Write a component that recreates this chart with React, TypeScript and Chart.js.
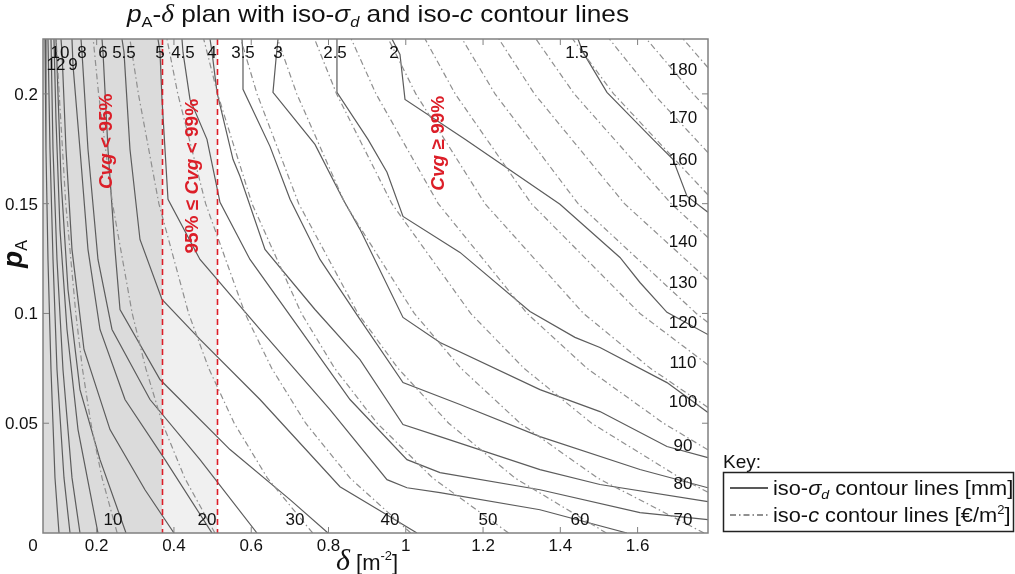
import React, { useEffect, useRef } from "react";
import { Chart, registerables } from "chart.js";
Chart.register(...registerables);

const SANS = '"Liberation Sans", Arial, Helvetica, sans-serif';
const SERIF = '"Liberation Serif", "Times New Roman", serif';

// axis ranges and ticks
const xMin = 0.0611;
const xMax = 1.7822;
const yMin = 0;
const yMax = 0.225;
const xTicks = [0.2, 0.4, 0.6, 0.8, 1, 1.2, 1.4, 1.6];
const xTickLabels = ["0.2", "0.4", "0.6", "0.8", "1", "1.2", "1.4", "1.6"];
const yTicks = [0.05, 0.1, 0.15, 0.2];
const yTickLabels = ["0.05", "0.1", "0.15", "0.2"];

// coverage boundaries (delta values of the red dashed lines)
const cvgBounds = [0.3695, 0.5114];

// iso-sigma_d contour lines [delta, pA]
const sdU1 = [[0.0663, 0.225], [0.0688, 0.1748], [0.074, 0.1246], [0.0818, 0.0745], [0.0921, 0.0252], [0.1025, 0]];
const sdU2 = [[0.074, 0.225], [0.0792, 0.1748], [0.087, 0.1246], [0.0973, 0.0745], [0.1154, 0.0252], [0.131, 0]];
const sdU3 = [[0.0818, 0.225], [0.087, 0.1748], [0.0973, 0.1246], [0.1128, 0.0745], [0.1361, 0.0252], [0.1568, 0]];
const sdU4 = [[0.0895, 0.225], [0.0947, 0.1884], [0.1051, 0.1383], [0.1232, 0.0927], [0.1517, 0.0471], [0.2034, 0]];
const sd12 = [[0.0947, 0.225], [0.0973, 0.2131], [0.1077, 0.1611], [0.1258, 0.1109], [0.1568, 0.0653], [0.2086, 0.0334], [0.2759, 0]];
const sd10 = [[0.1077, 0.225], [0.1103, 0.219], [0.1206, 0.1748], [0.1361, 0.1292], [0.1672, 0.0836], [0.2345, 0.0471], [0.325, 0.0197], [0.4001, 0]];
const sd9 = [[0.1361, 0.225], [0.1387, 0.2131], [0.1568, 0.1748], [0.1775, 0.1292], [0.2086, 0.0927], [0.2733, 0.0608], [0.3768, 0.0334], [0.4985, 0]];
const sd8 = [[0.1594, 0.225], [0.162, 0.219], [0.1775, 0.1748], [0.2034, 0.1246], [0.2397, 0.0927], [0.338, 0.0608], [0.4674, 0.0334], [0.6149, 0]];
const sd6 = [[0.2138, 0.225], [0.2164, 0.219], [0.2293, 0.1748], [0.2474, 0.1292], [0.2604, 0.1018], [0.3639, 0.0699], [0.5451, 0.038], [0.7004, 0.0152], [0.7987, 0]];
const sd55 = [[0.2655, 0.225], [0.2707, 0.219], [0.2862, 0.1748], [0.3121, 0.1337], [0.3691, 0.1064], [0.4674, 0.0882], [0.6227, 0.0608], [0.8297, 0.0211], [0.941, 0.0093], [1.029, 0]];
const sd5 = [[0.3587, 0.225], [0.3639, 0.219], [0.3691, 0.1975], [0.3846, 0.152], [0.4674, 0.1246], [0.6227, 0.0927], [0.8038, 0.0562], [0.9514, 0.0243], [1.0031, 0.0206], [1.0886, 0.0184], [1.3473, 0.0106], [1.5725, 0]];
const sd45 = [[0.4208, 0.225], [0.4234, 0.219], [0.4415, 0.1975], [0.4855, 0.1793], [0.5192, 0.1506], [0.5968, 0.1246], [0.7262, 0.0927], [0.8556, 0.0608], [1.0031, 0.0334], [1.0886, 0.0275], [1.3473, 0.0197], [1.6061, 0.0093], [1.782, 0.0061]];
const sd4 = [[0.4933, 0.225], [0.4985, 0.219], [0.5114, 0.2007], [0.5528, 0.1702], [0.5709, 0.1625], [0.6356, 0.1292], [0.765, 0.1018], [0.8815, 0.079], [0.9928, 0.0494], [1.0886, 0.0439], [1.3473, 0.0289], [1.5026, 0.0221], [1.782, 0.0143]];
const sd35 = [[0.5761, 0.225], [0.5787, 0.2172], [0.5787, 0.2021], [0.6485, 0.1761], [0.7004, 0.152], [0.778, 0.1246], [0.8815, 0.0973], [0.9928, 0.0685], [1.1403, 0.0585], [1.3473, 0.0439], [1.6061, 0.0289], [1.782, 0.0206]];
const sd3 = [[0.6693, 0.225], [0.6641, 0.2158], [0.6563, 0.2007], [0.765, 0.177], [0.8375, 0.152], [0.8815, 0.1383], [0.9928, 0.0982], [1.0886, 0.0868], [1.3473, 0.0653], [1.5026, 0.0553], [1.676, 0.0394], [1.782, 0.0343]];
const sd25 = [[0.8219, 0.225], [0.8219, 0.2007], [0.9022, 0.1793], [0.9514, 0.1643], [0.9928, 0.1442], [1.1403, 0.1278], [1.3215, 0.1009], [1.4379, 0.0891], [1.5026, 0.0845], [1.676, 0.0685], [1.782, 0.0549]];
const sd2 = [[0.9643, 0.225], [0.985, 0.218], [0.998, 0.1975], [1.1533, 0.1793], [1.3991, 0.1497], [1.5544, 0.1255], [1.6061, 0.1141], [1.676, 0.1005], [1.782, 0.0904]];
const sd15 = [[1.4457, 0.225], [1.4586, 0.219], [1.5207, 0.2007], [1.6398, 0.1793], [1.6915, 0.1702], [1.7278, 0.1534], [1.782, 0.1461]];

// iso-c contour lines [delta, pA]
const c10 = [[0.253, 0], [0.214, 0.025], [0.185, 0.05], [0.163, 0.075], [0.146, 0.1], [0.12, 0.15], [0.103, 0.2], [0.095, 0.225]];
const c20 = [[0.506, 0], [0.428, 0.025], [0.37, 0.05], [0.327, 0.075], [0.292, 0.1], [0.241, 0.15], [0.205, 0.2], [0.191, 0.225]];
const c30 = [[0.759, 0], [0.642, 0.025], [0.556, 0.05], [0.49, 0.075], [0.438, 0.1], [0.361, 0.15], [0.308, 0.2], [0.286, 0.225]];
const c40 = [[1.013, 0], [0.856, 0.025], [0.741, 0.05], [0.653, 0.075], [0.584, 0.1], [0.482, 0.15], [0.41, 0.2], [0.382, 0.225]];
const c50 = [[1.266, 0], [1.07, 0.025], [0.926, 0.05], [0.816, 0.075], [0.73, 0.1], [0.602, 0.15], [0.513, 0.2], [0.477, 0.225]];
const c60 = [[1.519, 0], [1.283, 0.025], [1.111, 0.05], [0.98, 0.075], [0.876, 0.1], [0.723, 0.15], [0.615, 0.2], [0.573, 0.225]];
const c70 = [[1.772, 0], [1.497, 0.025], [1.296, 0.05], [1.143, 0.075], [1.022, 0.1], [0.843, 0.15], [0.718, 0.2], [0.668, 0.225]];
const c80 = [[1.782, 0.0186], [1.711, 0.025], [1.481, 0.05], [1.306, 0.075], [1.168, 0.1], [0.964, 0.15], [0.821, 0.2], [0.764, 0.225]];
const c90 = [[1.782, 0.0379], [1.667, 0.05], [1.469, 0.075], [1.314, 0.1], [1.084, 0.15], [0.923, 0.2], [0.859, 0.225]];
const c100 = [[1.782, 0.0572], [1.633, 0.075], [1.46, 0.1], [1.205, 0.15], [1.026, 0.2], [0.955, 0.225]];
const c110 = [[1.782, 0.0766], [1.606, 0.1], [1.325, 0.15], [1.128, 0.2], [1.05, 0.225]];
const c120 = [[1.782, 0.0959], [1.752, 0.1], [1.446, 0.15], [1.231, 0.2], [1.146, 0.225]];
const c130 = [[1.782, 0.1153], [1.566, 0.15], [1.333, 0.2], [1.241, 0.225]];
const c140 = [[1.782, 0.1346], [1.687, 0.15], [1.436, 0.2], [1.337, 0.225]];
const c150 = [[1.782, 0.154], [1.538, 0.2], [1.432, 0.225]];
const c160 = [[1.782, 0.1733], [1.641, 0.2], [1.527, 0.225]];
const c170 = [[1.782, 0.1927], [1.744, 0.2], [1.623, 0.225]];
const c180 = [[1.782, 0.212], [1.718, 0.225]];

// contour labels
const sigmaLabelText = ["10", "8", "6", "5.5", "5", "4.5", "4", "3.5", "3", "2.5", "2", "1.5", "12", "9"];
const sigmaLabelX = [0.1051, 0.162, 0.2164, 0.2707, 0.3639, 0.4234, 0.4985, 0.5787, 0.6693, 0.8168, 0.9695, 1.4431, 0.0947, 0.1387];
const sigmaLabelY = [0.219, 0.219, 0.219, 0.219, 0.219, 0.219, 0.219, 0.219, 0.219, 0.219, 0.219, 0.219, 0.2136, 0.2136];
const costLabelText = ["10", "20", "30", "40", "50", "60", "70", "80", "90", "100", "110", "120", "130", "140", "150", "160", "170", "180"];
const costLabelX = [0.2423, 0.4855, 0.7132, 0.959, 1.2127, 1.451, 1.7174, 1.7174, 1.7174, 1.7174, 1.7174, 1.7174, 1.7174, 1.7174, 1.7174, 1.7174, 1.7174, 1.7174];
const costLabelY = [0.0063, 0.0063, 0.0063, 0.0063, 0.0063, 0.0063, 0.0063, 0.0229, 0.0403, 0.0599, 0.0781, 0.0959, 0.1141, 0.1328, 0.1511, 0.1702, 0.1894, 0.2113];

// coverage region annotations
const regionX = [0.2215, 0.4441, 1.0808];
const regionY = [0.1784, 0.1625, 0.1775];

const sigmaLines = [sdU1, sdU2, sdU3, sdU4, sd12, sd10, sd9, sd8, sd6, sd55, sd5, sd45, sd4, sd35, sd3, sd25, sd2, sd15];
const costLines = [c10, c20, c30, c40, c50, c60, c70, c80, c90, c100, c110, c120, c130, c140, c150, c160, c170, c180];

const SOLID_COLOR = "#5c5c5c";
const DASH_COLOR = "#8f8f8f";
const DASH_PATTERN = [6, 3, 1.5, 3];
const RED = "#dc1e28";

type Seg = { t: string; size: number; style?: string; weight?: string; family?: string; dy?: number };

function drawRich(ctx: CanvasRenderingContext2D, segs: Seg[], x: number, y: number, align: string, sx = 1) {
  ctx.save();
  ctx.textBaseline = "alphabetic";
  ctx.textAlign = "left";
  const fonts = segs.map((s) => `${s.style || "normal"} ${s.weight || "normal"} ${s.size}px ${s.family || SANS}`);
  const widths = segs.map((s, i) => {
    ctx.font = fonts[i];
    return ctx.measureText(s.t).width;
  });
  const total = widths.reduce((a, b) => a + b, 0);
  ctx.translate(x, y);
  ctx.scale(sx, 1);
  let cx = align === "center" ? -total / 2 : align === "right" ? -total : 0;
  segs.forEach((s, i) => {
    ctx.font = fonts[i];
    ctx.fillText(s.t, cx, s.dy || 0);
    cx += widths[i];
  });
  ctx.restore();
}

const decor = {
  id: "decor",
  beforeDraw(chart: any) {
    const ctx = chart.ctx;
    ctx.save();
    ctx.fillStyle = "#ffffff";
    ctx.fillRect(0, 0, chart.width, chart.height);
    ctx.restore();
  },
  beforeDatasetsDraw(chart: any) {
    const ctx = chart.ctx;
    const a = chart.chartArea;
    const xs = chart.scales.x;
    const b0 = xs.getPixelForValue(cvgBounds[0]);
    const b1 = xs.getPixelForValue(cvgBounds[1]);
    ctx.save();
    ctx.fillStyle = "#dbdbdb";
    ctx.fillRect(a.left, a.top, b0 - a.left, a.bottom - a.top);
    ctx.fillStyle = "#f0f0f0";
    ctx.fillRect(b0, a.top, b1 - b0, a.bottom - a.top);
    ctx.restore();
  },
  afterDatasetsDraw(chart: any) {
    const ctx: CanvasRenderingContext2D = chart.ctx;
    const a = chart.chartArea;
    const xs = chart.scales.x;
    const ys = chart.scales.y;
    ctx.save();

    // red dashed coverage boundaries
    ctx.strokeStyle = RED;
    ctx.lineWidth = 1.6;
    ctx.setLineDash([6, 4]);
    cvgBounds.forEach((v) => {
      const px = Math.round(xs.getPixelForValue(v)) + 0.5;
      ctx.beginPath();
      ctx.moveTo(px, a.top);
      ctx.lineTo(px, a.bottom);
      ctx.stroke();
    });
    ctx.setLineDash([]);

    // axes box
    ctx.strokeStyle = "#808080";
    ctx.lineWidth = 1.5;
    ctx.strokeRect(a.left, a.top, a.right - a.left, a.bottom - a.top);
    // inner ticks
    ctx.lineWidth = 1;
    ctx.beginPath();
    xTicks.forEach((v) => {
      const px = xs.getPixelForValue(v);
      ctx.moveTo(px, a.bottom);
      ctx.lineTo(px, a.bottom - 6);
      ctx.moveTo(px, a.top);
      ctx.lineTo(px, a.top + 6);
    });
    yTicks.forEach((v) => {
      const py = ys.getPixelForValue(v);
      ctx.moveTo(a.left, py);
      ctx.lineTo(a.left + 6, py);
      ctx.moveTo(a.right, py);
      ctx.lineTo(a.right - 6, py);
    });
    ctx.stroke();

    // tick labels
    ctx.fillStyle = "#111";
    xTicks.forEach((v, i) => {
      drawRich(ctx, [{ t: xTickLabels[i], size: 17 }], xs.getPixelForValue(v), a.bottom + 18, "center");
    });
    drawRich(ctx, [{ t: "0", size: 17 }], a.left - 10, a.bottom + 18, "center");
    yTicks.forEach((v, i) => {
      drawRich(ctx, [{ t: yTickLabels[i], size: 17 }], a.left - 5, ys.getPixelForValue(v) + 6, "right");
    });

    // contour labels
    ctx.fillStyle = "#111";
    sigmaLabelText.forEach((t, i) => {
      drawRich(ctx, [{ t, size: 17 }], xs.getPixelForValue(sigmaLabelX[i]), ys.getPixelForValue(sigmaLabelY[i]) + 6, "center");
    });
    costLabelText.forEach((t, i) => {
      drawRich(ctx, [{ t, size: 17 }], xs.getPixelForValue(costLabelX[i]), ys.getPixelForValue(costLabelY[i]) + 6, "center");
    });

    // region texts (rotated)
    const regions: Seg[][] = [
      [
        { t: "Cvg", size: 19, style: "italic", weight: "bold" },
        { t: " < 95%", size: 19, weight: "bold" },
      ],
      [
        { t: "95% \u2264 ", size: 19, weight: "bold" },
        { t: "Cvg", size: 19, style: "italic", weight: "bold" },
        { t: " < 99%", size: 19, weight: "bold" },
      ],
      [
        { t: "Cvg", size: 19, style: "italic", weight: "bold" },
        { t: " \u2265 99%", size: 19, weight: "bold" },
      ],
    ];
    regions.forEach((segs, i) => {
      ctx.save();
      ctx.translate(xs.getPixelForValue(regionX[i]), ys.getPixelForValue(regionY[i]));
      ctx.rotate(-Math.PI / 2);
      ctx.fillStyle = RED;
      drawRich(ctx, segs, 0, 7, "center");
      ctx.restore();
    });

    // title
    ctx.fillStyle = "#111";
    drawRich(
      ctx,
      [
        { t: "p", size: 24, style: "italic" },
        { t: "A", size: 15, dy: 5 },
        { t: "-", size: 24 },
        { t: "\u03b4", size: 25, style: "italic", family: SERIF },
        { t: " plan with iso-", size: 24 },
        { t: "\u03c3", size: 24, style: "italic" },
        { t: "d", size: 15, style: "italic", dy: 5 },
        { t: " and iso-", size: 24 },
        { t: "c", size: 24, style: "italic" },
        { t: " contour lines", size: 24 },
      ],
      378,
      22,
      "center",
      1.093
    );

    // x-axis title
    drawRich(
      ctx,
      [
        { t: "\u03b4", size: 30, style: "italic", family: SERIF },
        { t: " [m", size: 22 },
        { t: "-2", size: 13, dy: -10 },
        { t: "]", size: 22 },
      ],
      336,
      570,
      "left"
    );

    // y-axis title (rotated)
    ctx.save();
    ctx.translate(16, 254);
    ctx.rotate(-Math.PI / 2);
    drawRich(
      ctx,
      [
        { t: "p", size: 28, style: "italic", weight: "bold" },
        { t: "A", size: 16, dy: 5 },
      ],
      0,
      6,
      "center"
    );
    ctx.restore();

    // key / legend
    drawRich(ctx, [{ t: "Key:", size: 19 }], 723, 468, "left");
    ctx.strokeStyle = "#222";
    ctx.lineWidth = 1.5;
    ctx.strokeRect(723.5, 472.5, 290, 59);
    ctx.lineWidth = 1.5;
    ctx.beginPath();
    ctx.moveTo(730, 488);
    ctx.lineTo(768, 488);
    ctx.stroke();
    ctx.lineWidth = 1.2;
    ctx.setLineDash(DASH_PATTERN);
    ctx.beginPath();
    ctx.moveTo(730, 515);
    ctx.lineTo(768, 515);
    ctx.stroke();
    ctx.setLineDash([]);
    drawRich(
      ctx,
      [
        { t: "iso-", size: 20 },
        { t: "\u03c3", size: 20, style: "italic" },
        { t: "d", size: 13, style: "italic", dy: 4 },
        { t: " contour lines [mm]", size: 20 },
      ],
      773,
      495,
      "left",
      1.09
    );
    drawRich(
      ctx,
      [
        { t: "iso-", size: 20 },
        { t: "c", size: 20, style: "italic" },
        { t: " contour lines [\u20ac/m", size: 20 },
        { t: "2", size: 12, dy: -8 },
        { t: "]", size: 20 },
      ],
      773,
      522,
      "left",
      1.09
    );
    ctx.restore();
  },
};

export default function App() {
  const ref = useRef<HTMLCanvasElement | null>(null);
  useEffect(() => {
    if (!ref.current) return;
    const toPts = (l: number[][]) => l.map(([x, y]) => ({ x, y }));
    const datasets: any[] = [
      ...costLines.map((l) => ({
        data: toPts(l),
        showLine: true,
        pointRadius: 0,
        borderColor: DASH_COLOR,
        borderWidth: 1.2,
        borderDash: DASH_PATTERN,
        fill: false,
        tension: 0,
      })),
      ...sigmaLines.map((l) => ({
        data: toPts(l),
        showLine: true,
        pointRadius: 0,
        borderColor: SOLID_COLOR,
        borderWidth: 1.2,
        fill: false,
        tension: 0,
      })),
    ];
    const chart = new Chart(ref.current, {
      type: "scatter",
      data: { datasets },
      options: {
        animation: false,
        responsive: true,
        maintainAspectRatio: false,
        events: [],
        layout: { padding: { left: 43, top: 39, right: 307, bottom: 41 } },
        scales: {
          x: { type: "linear", display: false, min: xMin, max: xMax },
          y: { type: "linear", display: false, min: yMin, max: yMax },
        },
        plugins: { legend: { display: false }, tooltip: { enabled: false }, title: { display: false } },
      },
      plugins: [decor],
    });
    return () => chart.destroy();
  }, []);
  return (
    <div style={{ position: "fixed", left: 0, top: 0, width: 1015, height: 574, background: "#fff" }}>
      <canvas ref={ref} />
    </div>
  );
}
